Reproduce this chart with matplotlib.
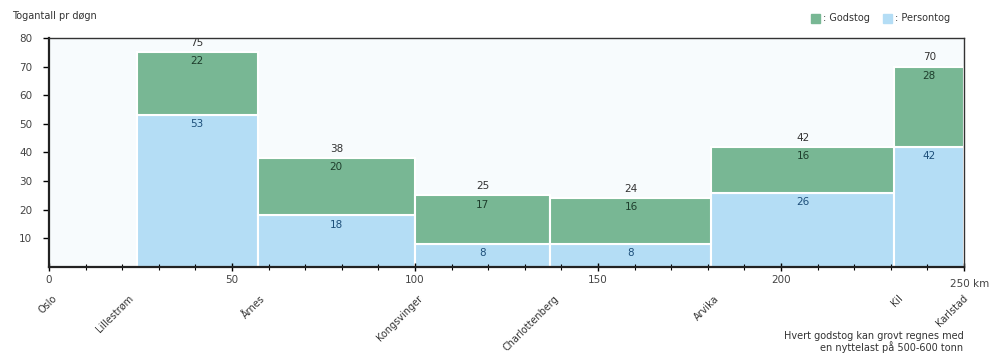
import matplotlib as mpl
mpl.use('Agg')
import matplotlib.pyplot as plt
from matplotlib.ticker import MultipleLocator
from matplotlib.patches import Rectangle

# stasjoner og km fra Oslo
stasjoner = ["Oslo", "Lillestrøm", "Årnes", "Kongsvinger", "Charlottenberg", "Arvika", "Kil", "Karlstad"]
km_stasjon = [0, 21, 57, 100, 137, 181, 231, 249]

# strekninger (km fra - km til)
km_fra = [24, 57, 100, 137, 181, 231]
km_til = [57, 100, 137, 181, 231, 250]
persontog = [53, 18, 8, 8, 26, 42]
godstog = [22, 20, 17, 16, 16, 28]
totalt = [75, 38, 25, 24, 42, 70]

gronn = "#78b794"
bla = "#b4ddf5"

fig = plt.figure(figsize=(9.91, 3.55), dpi=100)
ax = fig.add_axes([0.0494, 0.248, 0.9234, 0.645])
ax.set_facecolor("#f7fbfd")

bredde = [b - a for a, b in zip(km_fra, km_til)]
ax.bar(km_fra, persontog, width=bredde, align='edge', color=bla, edgecolor='white', linewidth=1.5)
ax.bar(km_fra, godstog, width=bredde, bottom=persontog, align='edge', color=gronn, edgecolor='white', linewidth=1.5)

for a, b, p, g, t in zip(km_fra, km_til, persontog, godstog, totalt):
    mid = (a + b) / 2
    ax.annotate(str(t), (mid, t), xytext=(0, 3), textcoords='offset points',
                ha='center', va='bottom', fontsize=7.5, color='#333333')
    ax.annotate(str(g), (mid, t), xytext=(0, -3), textcoords='offset points',
                ha='center', va='top', fontsize=7.5, color='#1e3d2c')
    ax.annotate(str(p), (mid, p), xytext=(0, -3), textcoords='offset points',
                ha='center', va='top', fontsize=7.5, color='#1d4f7a')

ax.set_xlim(0, 250)
ax.set_ylim(0, 80)
ax.set_yticks(range(10, 81, 10))
ax.set_xticks(range(0, 251, 50))
ax.set_xticklabels(['0', '50', '100', '150', '200', ''])
ax.xaxis.set_minor_locator(MultipleLocator(10))
ax.tick_params(axis='y', direction='out', length=4, width=1, labelsize=7.5, labelcolor='#444444', pad=8)
ax.tick_params(axis='x', which='major', direction='inout', length=6, width=1, labelsize=7.5,
               labelcolor='#444444', pad=3)
ax.tick_params(axis='x', which='minor', direction='inout', length=4, width=0.8)

for side in ['left', 'bottom']:
    ax.spines[side].set_linewidth(1.6)
    ax.spines[side].set_color('#222222')
for side in ['top', 'right']:
    ax.spines[side].set_linewidth(1.0)
    ax.spines[side].set_color('#333333')

ax.annotate('250 km', (250, 0), xycoords='data', xytext=(-10, -9), textcoords='offset points',
            ha='left', va='top', fontsize=7.5, color='#444444', annotation_clip=False)

# stasjonsnavn
trans = ax.get_xaxis_transform()
for navn, km in zip(stasjoner, km_stasjon):
    ax.annotate(navn, (km, 0), xycoords=trans, xytext=(2, -19), textcoords='offset points',
                ha='right', va='top', rotation=45, rotation_mode='anchor',
                fontsize=7, color='#333333', annotation_clip=False)

fig.text(0.012, 0.955, "Togantall pr døgn", fontsize=7, color='#333333', va='center')

# tegnforklaring
fig.add_artist(Rectangle((0.818, 0.935), 0.009, 0.026, transform=fig.transFigure, color=gronn))
fig.text(0.830, 0.948, ": Godstog", fontsize=7, color='#333333', va='center')
fig.add_artist(Rectangle((0.891, 0.935), 0.009, 0.026, transform=fig.transFigure, color=bla))
fig.text(0.903, 0.948, ": Persontog", fontsize=7, color='#333333', va='center')

fig.text(0.972, 0.006, "Hvert godstog kan grovt regnes med\nen nyttelast på 500-600 tonn",
         fontsize=7, color='#333333', ha='right', va='bottom', linespacing=1.0)

fig.savefig('out.png', dpi=100)
